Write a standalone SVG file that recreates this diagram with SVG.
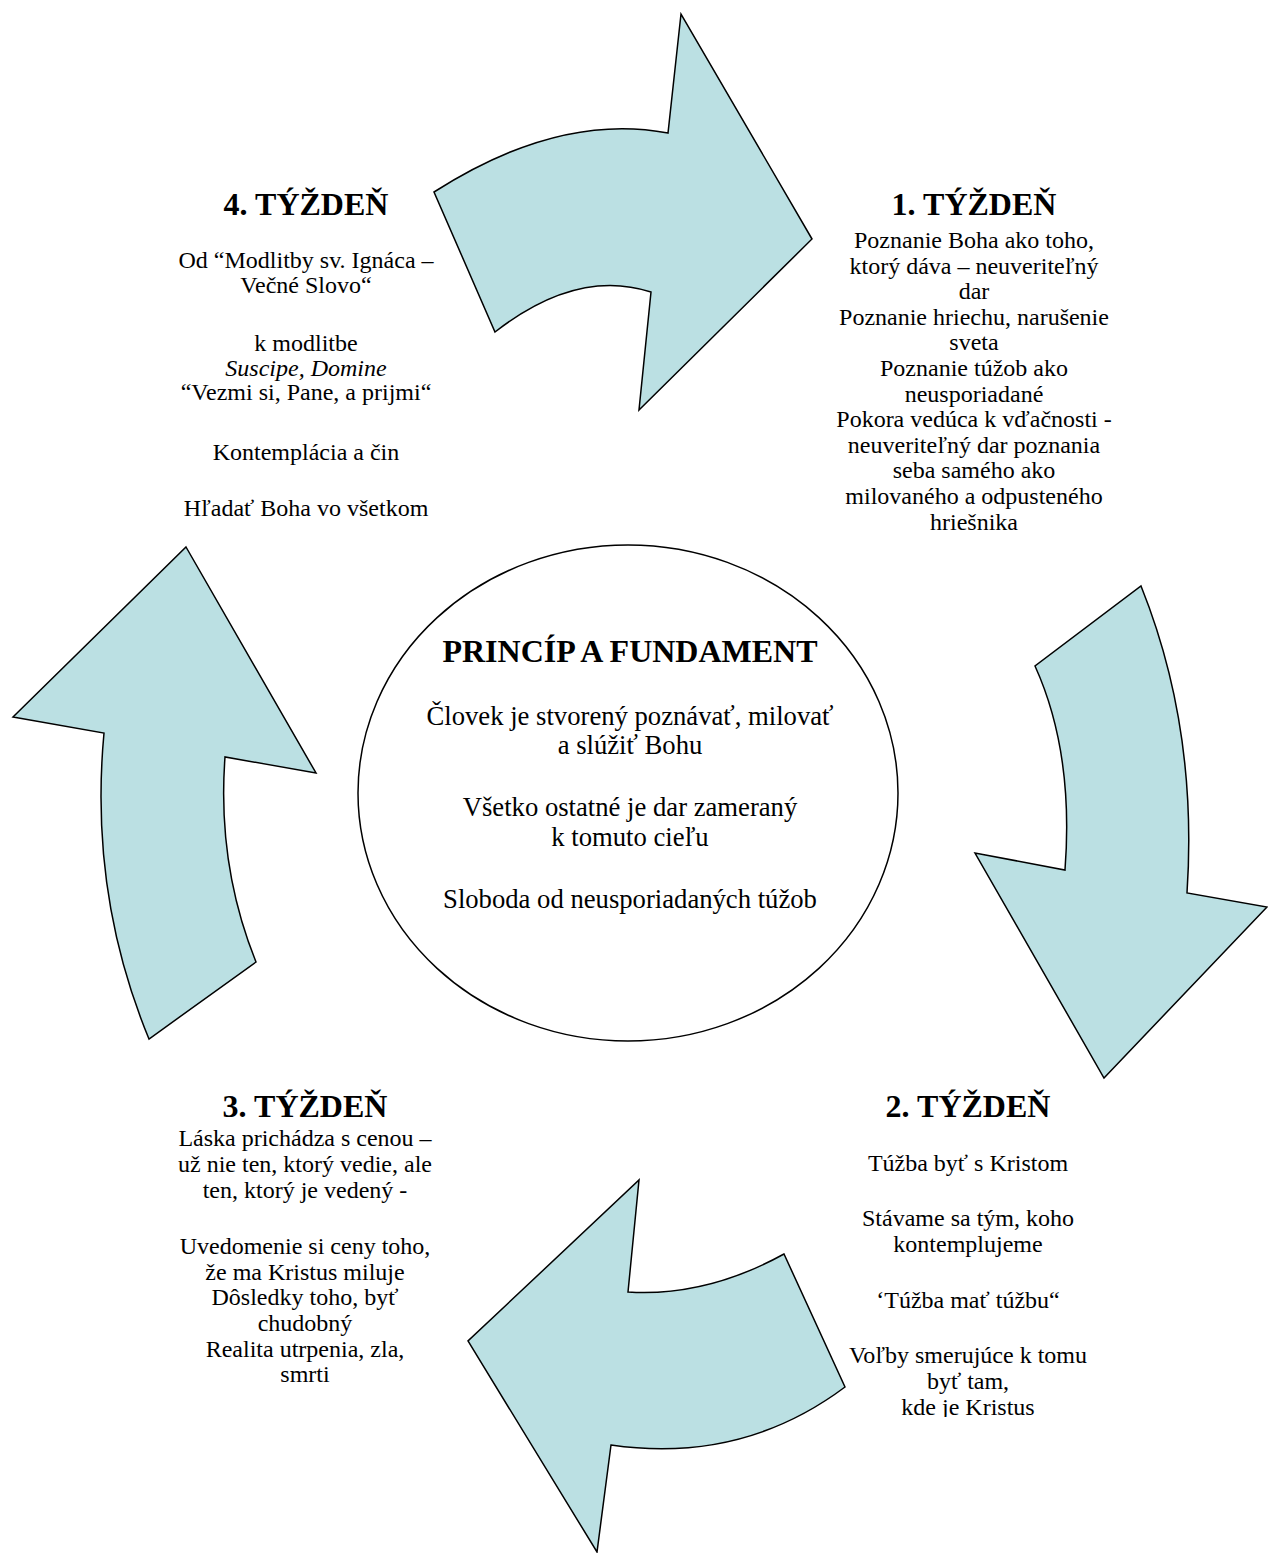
<svg xmlns="http://www.w3.org/2000/svg" width="1268" height="1553" viewBox="0 0 1268 1553">
<style>
.arrow{fill:#BBE0E3;stroke:#000;stroke-width:1.5;stroke-linejoin:miter}
text{font-family:"Liberation Serif","Times New Roman",serif;fill:#000;text-anchor:middle}
.h{font-size:32px;font-weight:bold}
.b{font-size:24px}
.c{font-size:26.67px}
.i{font-style:italic}
</style>
<defs>
<clipPath id="clip2"><rect x="800" y="1080" width="340" height="337"/></clipPath>
</defs>
<rect width="1268" height="1553" fill="#fff"/>
<g id="connectors">
<path class="arrow" d="M434,192 Q559,112 668,133 L681,14 L812,239 L639,410 L651,292 Q577,268 495,332 Z"/>
<path class="arrow" d="M1141,586 Q1198,728 1187,893 L1267,907 L1104,1078 L975,853 L1065,870 Q1074,752 1035,666 Z"/>
<path class="arrow" d="M784,1254 Q706,1297 628,1292 L639,1180 L468,1341 L597,1552 L611,1445 Q742,1464 845,1387 Z"/>
<path class="arrow" d="M186,547 L316,773 L225,757 Q217,865 256,962 L149,1039 Q89,894 104,733 L13,717 Z"/>
</g>
<g id="center">
<ellipse cx="628" cy="793" rx="270" ry="248" fill="#fff" stroke="#000" stroke-width="1.5"/>
<text class="h" x="630" y="662">PRINCÍP A FUNDAMENT</text>
<text class="c" x="630" y="725">Človek je stvorený poznávať, milovať</text>
<text class="c" x="630" y="754">a slúžiť Bohu</text>
<text class="c" x="630" y="816">Všetko ostatné je dar zameraný</text>
<text class="c" x="630" y="846">k tomuto cieľu</text>
<text class="c" x="630" y="908">Sloboda od neusporiadaných túžob</text>
</g>
<g id="week1">
<text class="h" x="974" y="215">1. TÝŽDEŇ</text>
<text class="b" x="974" y="248">Poznanie Boha ako toho,</text>
<text class="b" x="974" y="274">ktorý dáva – neuveriteľný</text>
<text class="b" x="974" y="299">dar</text>
<text class="b" x="974" y="325">Poznanie hriechu, narušenie</text>
<text class="b" x="974" y="350">sveta</text>
<text class="b" x="974" y="376">Poznanie túžob ako</text>
<text class="b" x="974" y="402">neusporiadané</text>
<text class="b" x="974" y="427">Pokora vedúca k vďačnosti -</text>
<text class="b" x="974" y="453">neuveriteľný dar poznania</text>
<text class="b" x="974" y="478">seba samého ako</text>
<text class="b" x="974" y="504">milovaného a odpusteného</text>
<text class="b" x="974" y="530">hriešnika</text>
</g>
<g id="week2" clip-path="url(#clip2)">
<text class="h" x="968" y="1117">2. TÝŽDEŇ</text>
<text class="b" x="968" y="1171">Túžba byť s Kristom</text>
<text class="b" x="968" y="1226">Stávame sa tým, koho</text>
<text class="b" x="968" y="1252">kontemplujeme</text>
<text class="b" x="968" y="1308">‘Túžba mať túžbu“</text>
<text class="b" x="968" y="1363">Voľby smerujúce k tomu</text>
<text class="b" x="968" y="1389">byť tam,</text>
<text class="b" x="968" y="1415">kde je Kristus</text>
</g>
<g id="week3">
<text class="h" x="305" y="1117">3. TÝŽDEŇ</text>
<text class="b" x="305" y="1146">Láska prichádza s cenou –</text>
<text class="b" x="305" y="1172">už nie ten, ktorý vedie, ale</text>
<text class="b" x="305" y="1198">ten, ktorý je vedený -</text>
<text class="b" x="305" y="1254">Uvedomenie si ceny toho,</text>
<text class="b" x="305" y="1280">že ma Kristus miluje</text>
<text class="b" x="305" y="1305">Dôsledky toho, byť</text>
<text class="b" x="305" y="1331">chudobný</text>
<text class="b" x="305" y="1357">Realita utrpenia, zla,</text>
<text class="b" x="305" y="1382">smrti</text>
</g>
<g id="week4">
<text class="h" x="306" y="215">4. TÝŽDEŇ</text>
<text class="b" x="306" y="268">Od “Modlitby sv. Ignáca –</text>
<text class="b" x="306" y="293">Večné Slovo“</text>
<text class="b" x="306" y="351">k modlitbe</text>
<text class="b i" x="306" y="376">Suscipe, Domine</text>
<text class="b" x="306" y="400">“Vezmi si, Pane, a prijmi“</text>
<text class="b" x="306" y="460">Kontemplácia a čin</text>
<text class="b" x="306" y="516">Hľadať Boha vo všetkom</text>
</g>
</svg>
